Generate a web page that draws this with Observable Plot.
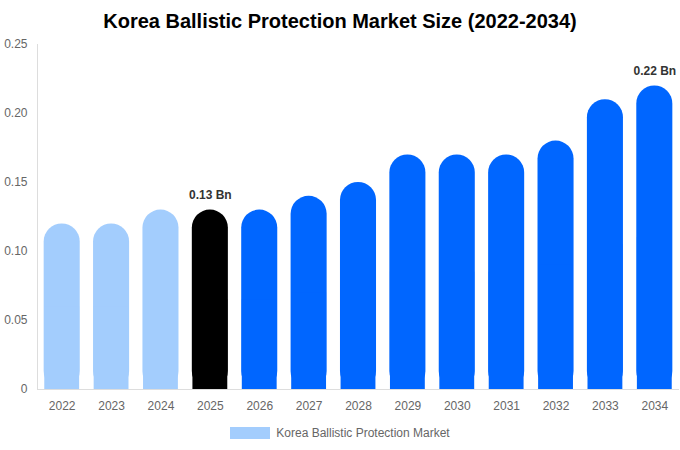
<!DOCTYPE html>
<html>
<head>
<meta charset="utf-8">
<script src="https://cdn.jsdelivr.net/npm/d3@7"></script>
<script src="https://cdn.jsdelivr.net/npm/@observablehq/plot@0.6"></script>
<style>
  body { margin: 0; background: #fff; font-family: "Liberation Sans", Arial, sans-serif; }
  #title { text-align: center; font-weight: bold; font-size: 20px; line-height: 26px; padding-top: 8px; color: #000; width: 680px; }
  #legend { width: 680px; display: flex; justify-content: center; align-items: center; padding-top: 12px; font-size: 12px; color: #666; }
  #legend .sw { width: 40px; height: 12px; background: #a3cdfd; margin-right: 6px; }
</style>
</head>
<body>
<div id="title">Korea Ballistic Protection Market Size (2022-2034)</div>
<div id="chart"></div>
<div id="legend"><span class="sw"></span><span>Korea Ballistic Protection Market</span></div>
<script>
const years = ["2022","2023","2024","2025","2026","2027","2028","2029","2030","2031","2032","2033","2034"];
const values = [0.12, 0.12, 0.13, 0.13, 0.13, 0.14, 0.15, 0.17, 0.17, 0.17, 0.18, 0.21, 0.22];
const phases = ["hist","hist","hist","base","fc","fc","fc","fc","fc","fc","fc","fc","fc"];
const labelYears = ["2025", "2034"];
const labelTexts = ["0.13 Bn", "0.22 Bn"];
const yTicks = [0, 0.05, 0.10, 0.15, 0.20, 0.25];

const data = years.map((y, i) => ({year: y, value: values[i], phase: phases[i]}));
const labels = labelYears.map((y, i) => ({year: y, value: values[years.indexOf(y)], text: labelTexts[i]}));

const colorScale = {domain: ["hist","base","fc"], range: ["#a3cdfd", "#000000", "#0066ff"]};

const chart = Plot.plot({
  width: 680,
  height: 380,
  marginTop: 10,
  marginLeft: 37,
  marginRight: 1,
  marginBottom: 25,
  style: {fontFamily: "'Liberation Sans', Arial, sans-serif", fontSize: "12px", color: "#666", background: "#fff"},
  x: {domain: years, paddingInner: 0.27, paddingOuter: 0.135, round: false, label: null, tickSize: 0, tickPadding: 12},
  y: {domain: [0, 0.25], ticks: yTicks, tickFormat: d => d === 0 ? "0" : d.toFixed(2), label: null, tickSize: 0, tickPadding: 10},
  color: colorScale,
  marks: [
    Plot.barY(data, {x: "year", y: "value", fill: "phase", rx: 18, ry: 18}),
    Plot.barY(data, {x: "year", y1: 0, y2: d => d.value / 2, fill: "phase", insetLeft: 0.6, insetRight: 0.6}),
    Plot.ruleY([0], {stroke: "#ddd", strokeWidth: 1}),
    Plot.text(labels, {x: "year", y: "value", text: "text", dy: -11, lineAnchor: "bottom", fontWeight: "bold", fontSize: 12, fill: "#333"})
  ]
});
document.getElementById("chart").appendChild(chart);
const ys = chart.scale("y");
const svgns = "http://www.w3.org/2000/svg";
const line = document.createElementNS(svgns, "line");
line.setAttribute("x1", 37.5); line.setAttribute("x2", 37.5);
line.setAttribute("y1", ys.apply(0.25)); line.setAttribute("y2", ys.apply(0));
line.setAttribute("stroke", "#ddd");
chart.appendChild(line);
</script>
</body>
</html>
